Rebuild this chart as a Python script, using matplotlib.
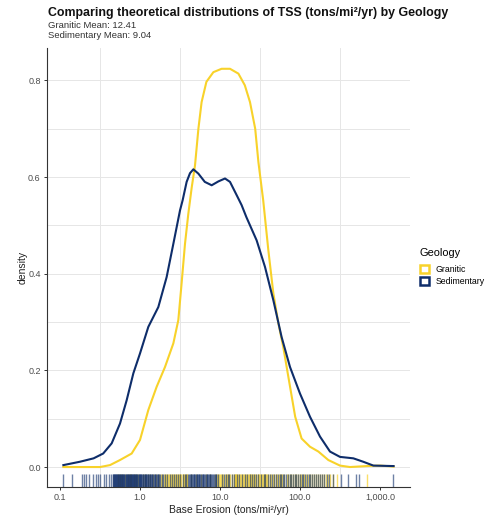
import numpy as np
import matplotlib
matplotlib.use("Agg")
import matplotlib.pyplot as plt
from matplotlib.patches import Patch

plt.rcParams['font.family'] = ['Liberation Sans', 'DejaVu Sans']

# density curves (x as log10 of base erosion)
gran_log_x = [-0.958, -0.5, -0.375, -0.25, -0.104, 0.0, 0.104, 0.208, 0.3125, 0.417,
              0.479, 0.52, 0.5625, 0.604, 0.646, 0.6875, 0.73, 0.77, 0.83, 0.917,
              1.02, 1.125, 1.23, 1.31, 1.375, 1.44, 1.48, 1.54, 1.604, 1.667,
              1.73, 1.79, 1.854, 1.94, 2.02, 2.125, 2.23, 2.354, 2.5, 2.625,
              2.83, 3.0, 3.17]
gran_dens = [0.0, 0.0, 0.004, 0.0145, 0.028, 0.056, 0.118, 0.166, 0.207, 0.256,
             0.304, 0.38, 0.462, 0.524, 0.578, 0.624, 0.70, 0.755, 0.797, 0.817,
             0.824, 0.824, 0.814, 0.79, 0.755, 0.70, 0.631, 0.552, 0.449, 0.359,
             0.297, 0.249, 0.187, 0.104, 0.059, 0.042, 0.032, 0.0145, 0.003, 0.0,
             0.002, 0.003, 0.001]

sed_log_x = [-0.958, -0.75, -0.58, -0.46, -0.354, -0.25, -0.167, -0.083, 0.0, 0.104,
             0.229, 0.333, 0.417, 0.5, 0.533, 0.583, 0.625, 0.667, 0.73, 0.81,
             0.896, 0.98, 1.0625, 1.125, 1.21, 1.27, 1.33, 1.458, 1.5625, 1.667,
             1.77, 1.875, 2.0, 2.125, 2.25, 2.375, 2.5, 2.667, 2.79, 2.917, 3.17]
sed_dens = [0.004, 0.011, 0.018, 0.028, 0.049, 0.09, 0.138, 0.194, 0.235, 0.29,
            0.331, 0.393, 0.462, 0.531, 0.552, 0.59, 0.608, 0.616, 0.607, 0.59,
            0.583, 0.591, 0.597, 0.59, 0.562, 0.542, 0.517, 0.469, 0.414, 0.345,
            0.269, 0.207, 0.152, 0.104, 0.063, 0.032, 0.021, 0.018, 0.011, 0.003, 0.002]

# rug observations (tons/mi2/yr)
sed_rug = [0.11, 0.14, 0.19, 0.2, 0.21, 0.23, 0.26, 0.28, 0.3, 0.32, 0.35, 0.38, 0.41, 0.44,
           0.46, 0.47, 0.49, 0.5, 0.52, 0.53, 0.55, 0.56, 0.58, 0.6, 0.61, 0.63, 0.65,
           0.67, 0.69, 0.71, 0.73, 0.75, 0.78, 0.8, 0.82, 0.85, 0.87, 0.9, 0.93, 0.96,
           0.99, 1.02, 1.06, 1.1, 1.14, 1.18, 1.22, 1.27, 1.32, 1.37, 1.42, 1.48, 1.55,
           1.62, 1.7, 1.8, 1.95, 2.2, 2.5, 2.8, 3.2, 3.6, 4.0, 4.2, 4.4, 4.6, 4.8, 5.0,
           5.2, 5.4, 5.6, 5.9, 6.2, 6.5, 6.8, 7.1, 7.4, 7.8, 8.2, 8.6, 9.0, 10.5, 12.0,
           13.0, 14.0, 16.5, 19, 22, 25, 28, 33, 37, 42, 47, 53, 58, 64, 71, 78, 86, 95,
           105, 115, 128, 142, 160, 180, 200, 230, 262, 325, 400, 500, 550, 1470,
           0.455, 0.475, 0.485, 0.505, 0.515, 0.535, 0.545, 0.565, 0.575, 0.59, 0.62,
           0.64, 0.66, 0.68, 0.7, 0.72, 0.74, 0.765, 0.79, 0.81, 0.835, 0.86, 0.885,
           0.915, 0.945, 0.975, 1.0, 1.04, 1.08, 1.12, 1.16, 1.2, 1.25, 1.3, 1.35, 1.4,
           1.45, 1.52, 1.58, 1.66, 1.75, 1.88, 2.05, 2.35, 2.65, 3.0, 3.4, 3.8, 4.1, 4.3,
           4.5, 4.7, 4.9, 5.1, 5.3, 5.5, 5.75, 6.05, 6.35, 6.65, 6.95, 7.25, 7.6, 8.0,
           8.4, 8.8, 9.5, 11.2, 12.5, 15, 17.5, 20.5, 23.5, 26.5, 30, 35, 39.5, 44.5, 50,
           55.5, 61, 67.5, 74.5, 82, 90, 100, 110, 122, 135, 150, 170, 190, 215]
gran_rug = [0.53, 0.6, 0.7, 0.78, 0.88, 1.08, 1.25, 1.45, 1.75, 1.9, 2.05, 2.15, 2.3, 2.45,
            2.6, 2.75, 2.9, 3.05, 3.2, 3.4, 3.55, 3.75, 3.9, 9.3, 9.8, 10.2, 11, 11.8,
            12.5, 13.5, 14.8, 15.5, 16, 17, 18, 19, 20, 21, 22.5, 23.5, 24.5, 26, 27,
            29.5, 31, 32.5, 34.5, 36, 38, 40, 44, 48, 52, 56, 60, 68, 75, 82, 90, 100,
            108, 118, 135, 150, 170, 190, 210, 235, 290, 693,
            0.56, 0.65, 0.74, 0.83, 0.95, 1.15, 1.35, 1.6, 1.82, 1.97, 2.1, 2.22, 2.38,
            2.52, 2.68, 2.82, 2.98, 3.12, 3.3, 3.48, 3.65, 3.82, 4.3, 5.0, 5.8, 6.7, 7.6,
            8.6, 9.55, 10.0, 10.6, 11.4, 12.1, 13.0, 14.2, 15.2, 15.8, 16.5, 17.5, 18.5,
            19.5, 20.5, 21.8, 23, 24, 25.2, 26.5, 28, 30, 31.8, 33.5, 35.2, 37, 39, 42,
            46, 50, 54, 58, 64, 71, 78, 86, 95, 104, 113, 126, 142, 160, 180, 200, 222, 260]

groups = ["Granitic", "Sedimentary"]
means = [12.41, 9.04]
colors = {"Granitic": "#F8D22A", "Sedimentary": "#0E2D6A"}

x_ticks = [0.1, 1, 10, 100, 1000]
x_ticklabels = ["0.1", "1.0", "10.0", "100.0", "1,000.0"]
y_ticks = [0.0, 0.2, 0.4, 0.6, 0.8]

fig = plt.figure(figsize=(4.89, 5.18), dpi=100)
ax = fig.add_axes([47 / 489, 31 / 518, 363 / 489, 439 / 518])

ax.set_xscale("log")
ax.set_xlim(10 ** -1.1625, 10 ** 3.375)
ax.set_ylim(-0.0413, 0.867)

# grid: only minor verticals (half decades), major+minor horizontals
grid_c = "#E6E6E6"
for lx in [-0.5, 0.5, 1.5, 2.5]:
    ax.axvline(10 ** lx, color=grid_c, lw=0.7, zorder=0)
for gy in [0.0, 0.1, 0.2, 0.3, 0.4, 0.5, 0.6, 0.7, 0.8]:
    ax.axhline(gy, color=grid_c, lw=0.7, zorder=0)

ax.plot(10 ** np.array(gran_log_x), gran_dens, color=colors["Granitic"], lw=1.5, zorder=3)
ax.plot(10 ** np.array(sed_log_x), sed_dens, color=colors["Sedimentary"], lw=1.5, zorder=3)

trans = ax.get_xaxis_transform()
ax.vlines(gran_rug, 0, 0.03, transform=trans, color=colors["Granitic"], lw=1.0, alpha=0.7, zorder=2)
ax.vlines(sed_rug, 0, 0.03, transform=trans, color=colors["Sedimentary"], lw=1.0, alpha=0.6, zorder=2)

for s in ["top", "right"]:
    ax.spines[s].set_visible(False)
for s in ["left", "bottom"]:
    ax.spines[s].set_color("#333333")
    ax.spines[s].set_linewidth(0.8)

ax.set_xticks(x_ticks)
ax.set_xticklabels(x_ticklabels)
ax.xaxis.set_minor_locator(matplotlib.ticker.NullLocator())
ax.set_yticks(y_ticks)
ax.set_yticklabels(["%.1f" % v for v in y_ticks])
ax.tick_params(axis="both", colors="#333333", labelcolor="#4D4D4D", labelsize=6.5,
               length=2.5, width=0.7, pad=2)

ax.set_xlabel("Base Erosion (tons/mi\u00b2/yr)", fontsize=7.5, color="#222222", labelpad=2)
ax.set_ylabel("density", fontsize=7.5, color="#222222", labelpad=0)

fig.text(48 / 489, 1 - 16 / 518, "Comparing theoretical distributions of TSS (tons/mi\u00b2/yr) by Geology",
         fontsize=8.9, fontweight="bold", color="#111111", va="baseline", ha="left")
fig.text(48 / 489, 1 - 28 / 518, "Granitic Mean: %.2f" % means[0],
         fontsize=6.8, color="#333333", va="baseline", ha="left")
fig.text(48 / 489, 1 - 38 / 518, "Sedimentary Mean: %.2f" % means[1],
         fontsize=6.8, color="#333333", va="baseline", ha="left")

handles = [Patch(facecolor="white", edgecolor=colors[g], linewidth=1.8, label=g) for g in groups]
leg = fig.legend(handles=handles, title="Geology", loc="upper left",
                 bbox_to_anchor=(420 / 489, 1 - 248 / 518), frameon=False,
                 fontsize=6.3, title_fontsize=7.9, handlelength=1.0, handleheight=1.0,
                 handletextpad=0.8, labelspacing=0.35, borderaxespad=0, borderpad=0)
leg._legend_box.align = "left"
leg._legend_box.sep = 5

fig.savefig("out.png", dpi=100)
